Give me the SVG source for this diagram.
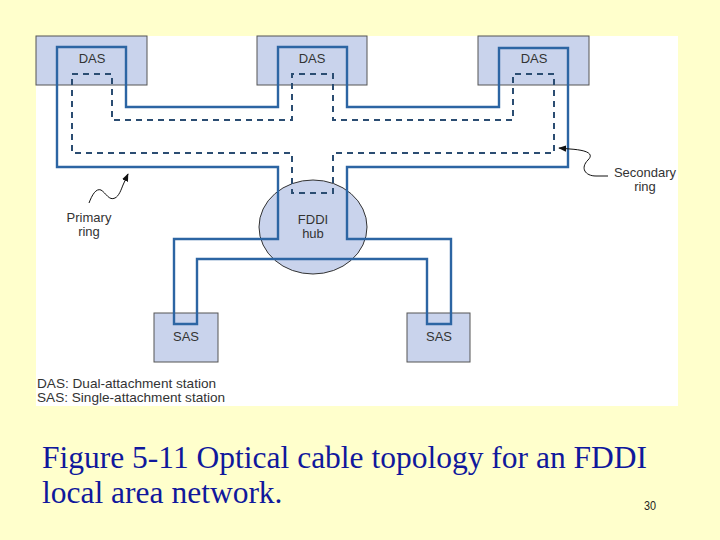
<svg xmlns="http://www.w3.org/2000/svg" width="720" height="540" viewBox="0 0 720 540">
<defs>
<style>
.box{fill:#c9d3ec;stroke:#555;stroke-width:1}
.lbl{font-family:"Liberation Sans",Arial,sans-serif;font-size:13px;fill:#333;text-anchor:middle}
.leg{font-family:"Liberation Sans",Arial,sans-serif;font-size:13.6px;fill:#333}
.prim{fill:none;stroke:#2c65a3;stroke-width:2.4;stroke-linejoin:miter}
.sec{fill:none;stroke:#2b4d72;stroke-width:2;stroke-dasharray:6 5}
.lead{fill:none;stroke:#111;stroke-width:1}
.cap{font-family:"Liberation Serif","Times New Roman",serif;font-size:31.5px;fill:#10189c}
</style>
<marker id="ah" viewBox="0 0 10 10" refX="9" refY="5" markerWidth="8" markerHeight="8" orient="auto" markerUnits="userSpaceOnUse">
<path d="M0,1 L10,5 L0,9 z" fill="#111"/>
</marker>
</defs>
<rect x="0" y="0" width="720" height="540" fill="#ffffcc"/>
<rect x="36" y="36" width="642" height="370" fill="#ffffff"/>

<g id="das1"><rect class="box" x="36" y="36" width="111" height="49"/><text class="lbl" x="92" y="63">DAS</text></g>
<g id="das2"><rect class="box" x="257" y="36" width="110" height="49"/><text class="lbl" x="312" y="63">DAS</text></g>
<g id="das3"><rect class="box" x="478" y="36" width="111" height="49"/><text class="lbl" x="534" y="63">DAS</text></g>
<g id="hub"><ellipse cx="313" cy="227" rx="54" ry="47" fill="#c9d3ec" stroke="#333" stroke-width="1"/></g>
<g id="sas1"><rect class="box" x="154" y="313" width="64" height="49"/><text class="lbl" x="186" y="341">SAS</text></g>
<g id="sas2"><rect class="box" x="407" y="313" width="63" height="49"/><text class="lbl" x="439" y="341">SAS</text></g>

<g id="connectors">
<path class="prim" d="M57,47 L126,47 L126,107 L278,107 L278,47 L347,47 L347,107 L499,107 L499,48 L568,48 L568,167 L347,167 L347,239 L451,239 L451,324 L427,324 L427,259 L197,259 L197,324 L174,324 L174,239 L278,239 L278,167 L57,167 Z"/>
<path class="sec" d="M72,74 L112,74 L112,120 L292,120 L292,74 L333,74 L333,120 L513,120 L513,74 L554,74 L554,153 L333,153 L333,193 L292,193 L292,153 L72,153 Z"/>
<path class="lead" marker-end="url(#ah)" d="M89,203 C92,195 96,188 101,190 C106,193 109,201 115,198 C119,196 121,190 123,185 L128,174"/>
<path class="lead" marker-end="url(#ah)" d="M608,176 L596,176 C585,176 580,168 588,160 C595,153 585,150 570,149 L559,148"/>
</g>

<g id="hub-label"><text class="lbl" x="313" y="224">FDDI</text><text class="lbl" x="313" y="238">hub</text></g>
<text class="lbl" x="89" y="222">Primary</text>
<text class="lbl" x="89" y="236">ring</text>
<text class="lbl" x="645" y="177">Secondary</text>
<text class="lbl" x="645" y="191">ring</text>
<text class="leg" x="37" y="388">DAS: Dual-attachment station</text>
<text class="leg" x="37" y="402">SAS: Single-attachment station</text>

<text class="cap" x="42" y="468">Figure 5-11 Optical cable topology for an FDDI</text>
<text class="cap" x="42" y="503">local area network.</text>
<text x="644" y="510" font-family="'Liberation Sans',Arial,sans-serif" font-size="12" fill="#222" transform="translate(644,0) scale(0.9,1) translate(-644,0)">30</text>
</svg>
